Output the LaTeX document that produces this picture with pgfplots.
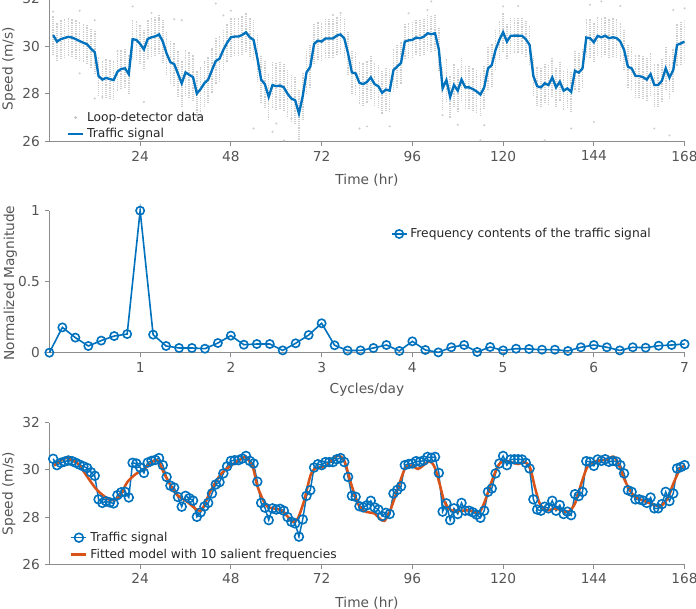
\documentclass[border=0pt]{standalone}
\usepackage{fontspec}
\setmainfont{DejaVu Sans}
\usepackage{pgfplots}
\usepackage{pgfplotstable}
\pgfplotsset{compat=1.18}

\definecolor{mblue}{RGB}{0,114,189}
\definecolor{morange}{RGB}{217,83,25}
\definecolor{axgray}{RGB}{140,140,140}
\definecolor{txtgray}{RGB}{85,85,85}
\definecolor{dotgray}{RGB}{205,205,205}

% hourly traffic signal: time (hr), mean speed (m/s), half-range of detector readings
\pgfplotstableread{
t v e
1 30.47 0.8
2 30.20 0.8
3 30.30 0.8
4 30.35 0.8
5 30.40 0.8
6 30.37 0.8
7 30.30 0.8
8 30.22 0.8
9 30.15 0.8
10 30.08 0.8
11 29.90 0.85
12 29.75 0.9
13 28.75 0.8
14 28.60 0.8
15 28.67 0.8
16 28.62 0.8
17 28.58 0.8
18 28.93 0.8
19 29.05 0.8
20 29.07 0.8
21 28.83 0.8
22 30.30 0.85
23 30.27 0.8
24 30.10 0.8
25 29.87 0.8
26 30.31 0.8
27 30.38 0.8
28 30.42 0.8
29 30.50 0.8
30 30.20 0.9
31 29.70 0.9
32 29.33 0.9
33 29.25 0.9
34 28.85 0.95
35 28.44 0.95
36 28.90 0.95
37 28.80 0.95
38 28.70 0.95
39 28.01 0.95
40 28.20 0.95
41 28.45 0.95
42 28.60 0.95
43 29.00 0.95
44 29.38 0.95
45 29.48 0.95
46 29.85 0.85
47 30.15 0.8
48 30.38 0.8
49 30.41 0.8
50 30.41 0.8
51 30.48 0.8
52 30.59 0.8
53 30.38 0.8
54 30.27 0.85
55 29.50 1.0
56 28.60 1.0
57 28.40 1.0
58 27.87 1.0
59 28.37 1.0
60 28.32 1.0
61 28.35 1.0
62 28.27 1.0
63 28.00 1.0
64 27.80 1.0
65 27.73 1.0
66 27.17 1.0
67 27.90 1.0
68 28.90 0.9
69 29.14 0.9
70 30.10 0.85
71 30.24 0.8
72 30.20 0.8
73 30.33 0.8
74 30.33 0.8
75 30.33 0.8
76 30.45 0.8
77 30.50 0.8
78 30.33 0.8
79 29.70 0.9
80 28.90 0.9
81 28.86 0.9
82 28.46 0.9
83 28.41 0.9
84 28.50 0.9
85 28.69 0.9
86 28.41 0.9
87 28.32 0.9
88 28.04 0.9
89 28.18 0.9
90 28.13 0.9
91 29.00 0.9
92 29.15 0.9
93 29.30 0.9
94 30.20 0.75
95 30.25 0.75
96 30.27 0.75
97 30.37 0.75
98 30.34 0.75
99 30.40 0.75
100 30.55 0.75
101 30.51 0.75
102 30.55 0.75
103 29.87 0.9
104 28.23 0.9
105 28.58 0.9
106 27.87 0.9
107 28.37 0.9
108 28.13 0.9
109 28.60 0.9
110 28.27 0.9
111 28.27 0.9
112 28.20 0.9
113 28.10 0.9
114 27.97 0.9
115 28.27 0.9
116 29.07 0.9
117 29.21 0.9
118 29.85 0.85
119 30.27 0.8
120 30.59 0.8
121 30.20 0.75
122 30.44 0.75
123 30.45 0.75
124 30.45 0.75
125 30.44 0.75
126 30.30 0.75
127 30.06 0.8
128 28.75 0.85
129 28.32 0.85
130 28.27 0.85
131 28.44 0.85
132 28.37 0.85
133 28.69 0.85
134 28.27 0.85
135 28.51 0.85
136 28.13 0.85
137 28.23 0.85
138 28.08 0.85
139 28.97 0.85
140 28.89 0.85
141 29.07 0.85
142 30.37 0.8
143 30.34 0.8
144 30.17 0.8
145 30.44 0.8
146 30.38 0.8
147 30.45 0.8
148 30.34 0.8
149 30.38 0.8
150 30.35 0.8
151 30.20 0.8
152 29.85 0.85
153 29.14 0.9
154 29.07 0.9
155 28.75 0.9
156 28.75 0.9
157 28.70 0.9
158 28.60 0.9
159 28.83 0.9
160 28.37 0.9
161 28.37 0.9
162 28.55 0.9
163 29.07 0.9
164 28.68 0.9
165 29.00 0.9
166 30.06 0.9
167 30.12 0.9
168 30.20 0.9
}\signal

% isolated detector readings outside the dense hourly columns
\pgfplotstableread{
t v
1 31.46
8 31.50
8 28.86
12 31.10
12 27.80
14 27.87
18 29.80
22 31.68
25 27.66
27 31.40
29 31.18
33 31.14
35 31.10
40 27.03
39 27.10
44 31.80
46 31.30
48 31.50
54 26.54
59 26.40
60 26.75
62 26.04
66 26.10
64 26.96
75 31.32
77 31.40
82 26.54
84 26.63
90 26.63
95 31.39
100 31.53
101 31.89
104 27.10
108 26.70
114 26.04
115 26.68
120 31.68
124 31.70
131 26.04
138 26.54
143 31.75
146 31.89
151 31.70
144 26.82
160 26.54
164 26.25
165 31.53
168 31.60
}\outliers

% normalized spectrum magnitude at k/7 cycles per day
\pgfplotstableread{
f m
0.000 0.000
0.143 0.178
0.286 0.106
0.429 0.047
0.571 0.085
0.714 0.117
0.857 0.131
1.000 1.000
1.143 0.127
1.286 0.047
1.429 0.033
1.571 0.033
1.714 0.028
1.857 0.068
2.000 0.120
2.143 0.056
2.286 0.061
2.429 0.061
2.571 0.016
2.714 0.066
2.857 0.124
3.000 0.207
3.143 0.052
3.286 0.015
3.429 0.016
3.571 0.033
3.714 0.054
3.857 0.012
4.000 0.080
4.143 0.019
4.286 0.002
4.429 0.038
4.571 0.054
4.714 0.005
4.857 0.040
5.000 0.016
5.143 0.028
5.286 0.026
5.429 0.021
5.571 0.021
5.714 0.012
5.857 0.038
6.000 0.054
6.143 0.038
6.286 0.016
6.429 0.038
6.571 0.035
6.714 0.049
6.857 0.054
7.000 0.061
}\spectrum

% reconstruction from the ten strongest frequencies
\pgfplotstableread{
t v
1.2 30.18
4.3 30.50
7.4 30.28
10.1 29.69
12.7 29.13
16.2 28.71
18.4 28.85
20.6 29.48
22.9 29.83
25.1 30.04
27.7 30.39
29.0 30.32
30.4 29.83
32.6 29.20
33.9 28.92
36.5 28.64
39.2 28.29
40.5 28.36
42.7 29.13
45.4 29.83
48.0 30.18
50.7 30.46
52.0 30.53
53.8 30.11
55.1 29.27
57.3 28.50
59.5 28.36
61.3 28.29
63.5 27.94
64.4 27.80
65.7 27.94
67.4 28.71
69.2 29.83
71.0 30.11
72.7 30.11
74.5 30.39
76.3 30.60
78.0 30.39
79.8 29.41
81.6 28.57
83.3 28.25
86.0 28.15
87.3 27.94
88.6 27.84
90.0 28.22
91.7 28.99
94.0 30.04
95.7 30.18
97.5 30.04
98.8 30.18
100.6 30.36
101.9 30.11
103.2 29.41
104.5 28.64
106.3 28.29
108.5 28.26
110.7 28.29
112.5 28.22
113.8 28.22
115.1 28.64
116.9 29.48
118.7 30.18
120.4 30.39
122.2 30.32
124.0 30.25
125.7 30.32
127.1 30.11
128.4 29.27
129.7 28.57
131.5 28.29
133.7 28.36
135.4 28.29
137.2 28.22
139.0 28.57
140.8 29.48
142.5 30.18
145.2 30.39
147.0 30.42
149.2 30.56
150.5 30.25
152.2 29.55
154.1 28.99
155.8 28.78
158.0 28.64
160.2 28.50
162.0 28.50
163.7 28.85
165.0 29.41
166.8 30.04
167.8 30.15
}\fitted

\pgfplotsset{
  panel/.style={
    scale only axis, width=476.4pt,
    axis x line*=bottom, axis y line*=left,
    axis line style={axgray, line width=0.6pt},
    tick align=outside, major tick length=3.6pt,
    every tick/.style={axgray, line width=0.6pt},
    ticklabel style={font=\fontsize{10.3}{12}\selectfont, text=txtgray},
    label style={font=\fontsize{10.3}{12}\selectfont, text=txtgray},
    /pgf/number format/assume math mode=true,
    legend style={draw=none, fill=none, font=\fontsize{9.2}{11}\selectfont,
      text=black!85, inner sep=1pt},
    legend cell align=left,
  },
  linemark/.style={legend image code/.code={
    \draw[mark repeat=2, mark phase=2, ##1] plot coordinates {(0cm,0cm) (0.2cm,0cm) (0.4cm,0cm)};}},
  lineonly/.style={legend image code/.code={\draw[##1] (0cm,0cm) -- (0.4cm,0cm);}},
}

\begin{document}
\begin{tikzpicture}
% top: detector readings and hourly signal
\begin{axis}[panel, at={(37.05pt,350pt)}, anchor=south west, height=106.9pt,
  xmin=0, xmax=168, ymin=26, ymax=32,
  xtick={24,48,...,168}, ytick={26,28,30,32},
  xlabel={Time (hr)}, ylabel={Speed (m/s)},
  xlabel style={at={(axis description cs:0.5,-0.272)}, anchor=center},
  ylabel style={at={(axis description cs:-0.064,0.51)}, anchor=center},
  legend style={at={(axis description cs:0.025,-0.02)}, anchor=south west},
  lineonly]
\addlegendimage{only marks, mark=*, mark size=0.8pt, dotgray!80!gray, legend image code/.code={\fill[dotgray!80!gray] (0.2cm,0cm) circle (0.8pt);}}
\addlegendentry{Loop-detector data}
\addplot[draw=none, forget plot, error bars/.cd, y dir=both, y explicit,
  error mark=none,
  error bar style={dotgray, line width=1.2pt, dash pattern=on 0.75pt off 0.65pt}]
  table[x=t, y=v, y error=e] {\signal};
\addplot[only marks, mark=*, mark size=0.55pt, dotgray, forget plot] table[x=t, y=v] {\outliers};
\addplot[mblue, line width=1.75pt] table[x=t, y=v] {\signal};
\addlegendentry{Traffic signal}
\end{axis}

% middle: spectrum
\begin{axis}[panel, at={(37.05pt,191.5pt)}, anchor=south west, height=106.5pt,
  xmin=0, xmax=7, ymin=0, ymax=1,
  xtick={1,...,7}, ytick={0,0.5,1}, yticklabels={0,0.5,1},
  xlabel={Cycles/day}, ylabel={Normalized Magnitude},
  xlabel style={at={(axis description cs:0.5,-0.263)}, anchor=center},
  ylabel style={at={(axis description cs:-0.0615,0.49)}, anchor=center},
  legend style={at={(axis description cs:0.535,0.836)}, anchor=west},
  linemark, clip=false]
\addplot[mblue, line width=1.2pt, mark=o, mark size=3.1pt, mark options={line width=1.2pt}]
  table[x=f, y=m] {\spectrum};
\addlegendentry{Frequency contents of the traffic signal}
\end{axis}

% bottom: signal and fitted model
\begin{axis}[panel, at={(37.05pt,32.8pt)}, anchor=south west, height=106.2pt,
  xmin=0, xmax=168, ymin=26, ymax=32,
  xtick={24,48,...,168}, ytick={26,28,30,32},
  xlabel={Time (hr)}, ylabel={Speed (m/s)},
  xlabel style={at={(axis description cs:0.5,-0.272)}, anchor=center},
  ylabel style={at={(axis description cs:-0.064,0.5)}, anchor=center},
  legend style={at={(axis description cs:0.03,0.0)}, anchor=south west},
  linemark, clip=false]
\addplot[mblue, line width=1.1pt, mark=o, mark size=3.3pt, mark options={line width=1.2pt}]
  table[x=t, y=v] {\signal};
\addlegendentry{Traffic signal}
\addplot[morange, line width=1.9pt, smooth, tension=0.5, lineonly] table[x=t, y=v] {\fitted};
\addlegendentry{Fitted model with 10 salient frequencies}
\end{axis}

\pgfresetboundingbox
\path[use as bounding box] (0,0) rectangle (522pt,456pt);
\end{tikzpicture}
\end{document}
